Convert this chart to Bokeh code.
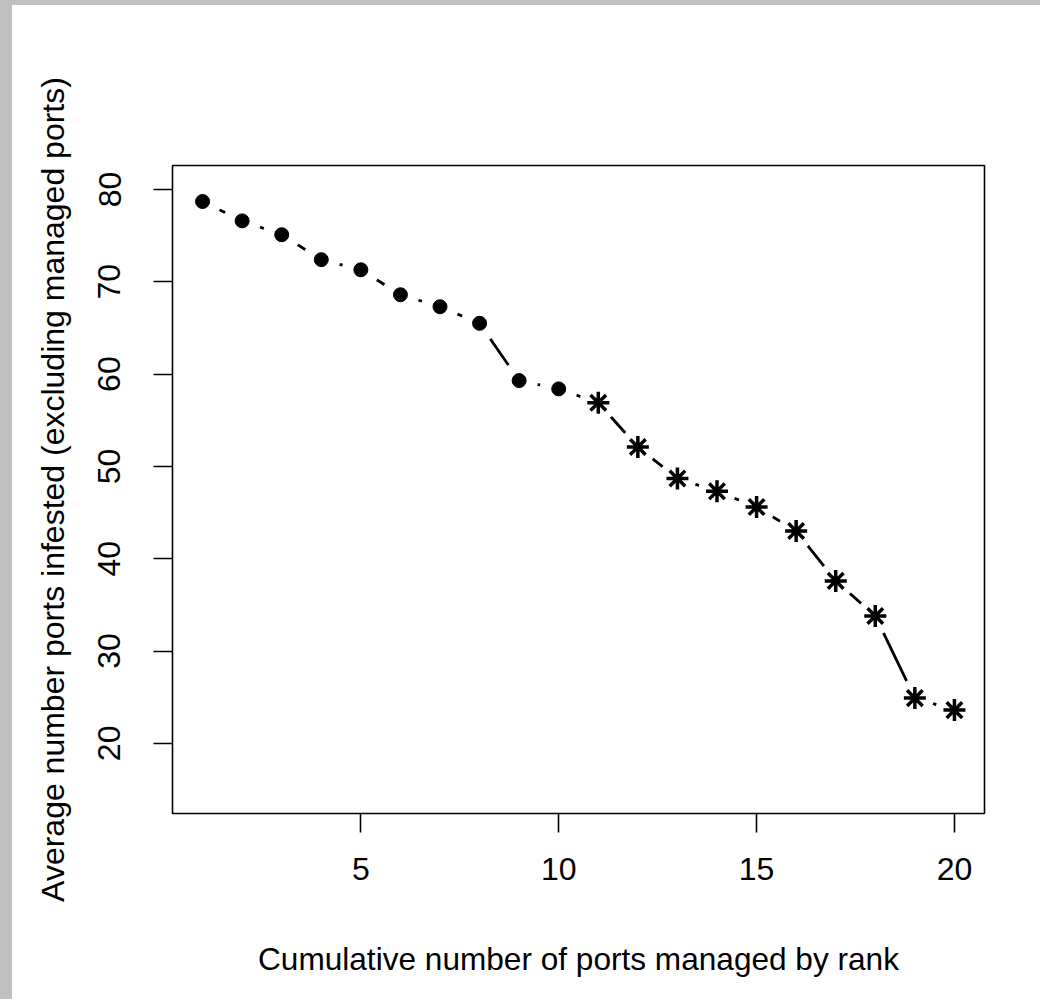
from bokeh.plotting import figure
from bokeh.models import FixedTicker, ColumnDataSource, Range1d
from bokeh.embed import file_html
from bokeh.resources import INLINE

# Data
ports_managed = [1, 2, 3, 4, 5, 6, 7, 8, 9, 10, 11, 12, 13, 14, 15, 16, 17, 18, 19, 20]
avg_infested = [78.7, 76.6, 75.1, 72.4, 71.3, 68.6, 67.3, 65.5, 59.3, 58.4,
                56.9, 52.1, 48.7, 47.3, 45.6, 43.0, 37.6, 33.8, 24.9, 23.6]
marker_kind = ["circle"] * 10 + ["asterisk"] * 10
x_ticks = [5, 10, 15, 20]
y_ticks = [20, 30, 40, 50, 60, 70, 80]

FONT = "Liberation Sans"

p = figure(
    output_backend="svg", toolbar_location=None,
    frame_width=812, frame_height=648,
    min_border_left=160, min_border_right=56, min_border_top=160, min_border_bottom=186,
    x_range=Range1d(0.24, 20.76), y_range=Range1d(12.4, 82.6),
    background_fill_color="white", border_fill_color="white",
)
p.styles = {"border-top": "5px solid #c0c0c0", "border-left": "12px solid #c0c0c0"}
p.xgrid.visible = False
p.ygrid.visible = False
p.outline_line_color = "black"
p.outline_line_width = 1.6

for ax in (p.xaxis[0], p.yaxis[0]):
    ax.axis_line_color = None
    ax.major_tick_line_color = "black"
    ax.major_tick_line_width = 1.6
    ax.major_tick_in = 0
    ax.major_tick_out = 19
    ax.minor_tick_line_color = None
    ax.major_label_text_font = FONT
    ax.major_label_text_font_size = "32px"
    ax.major_label_text_color = "black"
    ax.axis_label_text_font = FONT
    ax.axis_label_text_font_style = "normal"
    ax.axis_label_text_color = "black"

p.xaxis[0].axis_label_text_font_size = "31.6px"
p.yaxis[0].axis_label_text_font_size = "32px"
p.xaxis[0].ticker = FixedTicker(ticks=x_ticks)
p.yaxis[0].ticker = FixedTicker(ticks=y_ticks)
p.xaxis[0].axis_label = "Cumulative number of ports managed by rank"
p.yaxis[0].axis_label = "Average number ports infested (excluding managed ports)"
p.yaxis[0].major_label_orientation = "vertical"
p.xaxis[0].major_label_standoff = 25
p.xaxis[0].axis_label_standoff = 58
p.yaxis[0].major_label_standoff = 33
p.yaxis[0].axis_label_standoff = 25

src = ColumnDataSource(dict(x=ports_managed, y=avg_infested, m=marker_kind))
# connecting line (R type="b": gaps around each point)
p.line("x", "y", source=src, line_color="black", line_width=2.8)
p.scatter("x", "y", source=src, marker="circle", size=38,
          fill_color="white", line_color=None)
p.scatter("x", "y", source=src, marker="m", size=14,
          fill_color="black", line_color="black", line_width=1)
src2 = ColumnDataSource(dict(x=ports_managed[10:], y=avg_infested[10:]))
p.scatter("x", "y", source=src2, marker="asterisk", size=22,
          line_color="black", line_width=3.5)

open("out.html", "w").write(file_html(p, INLINE))
